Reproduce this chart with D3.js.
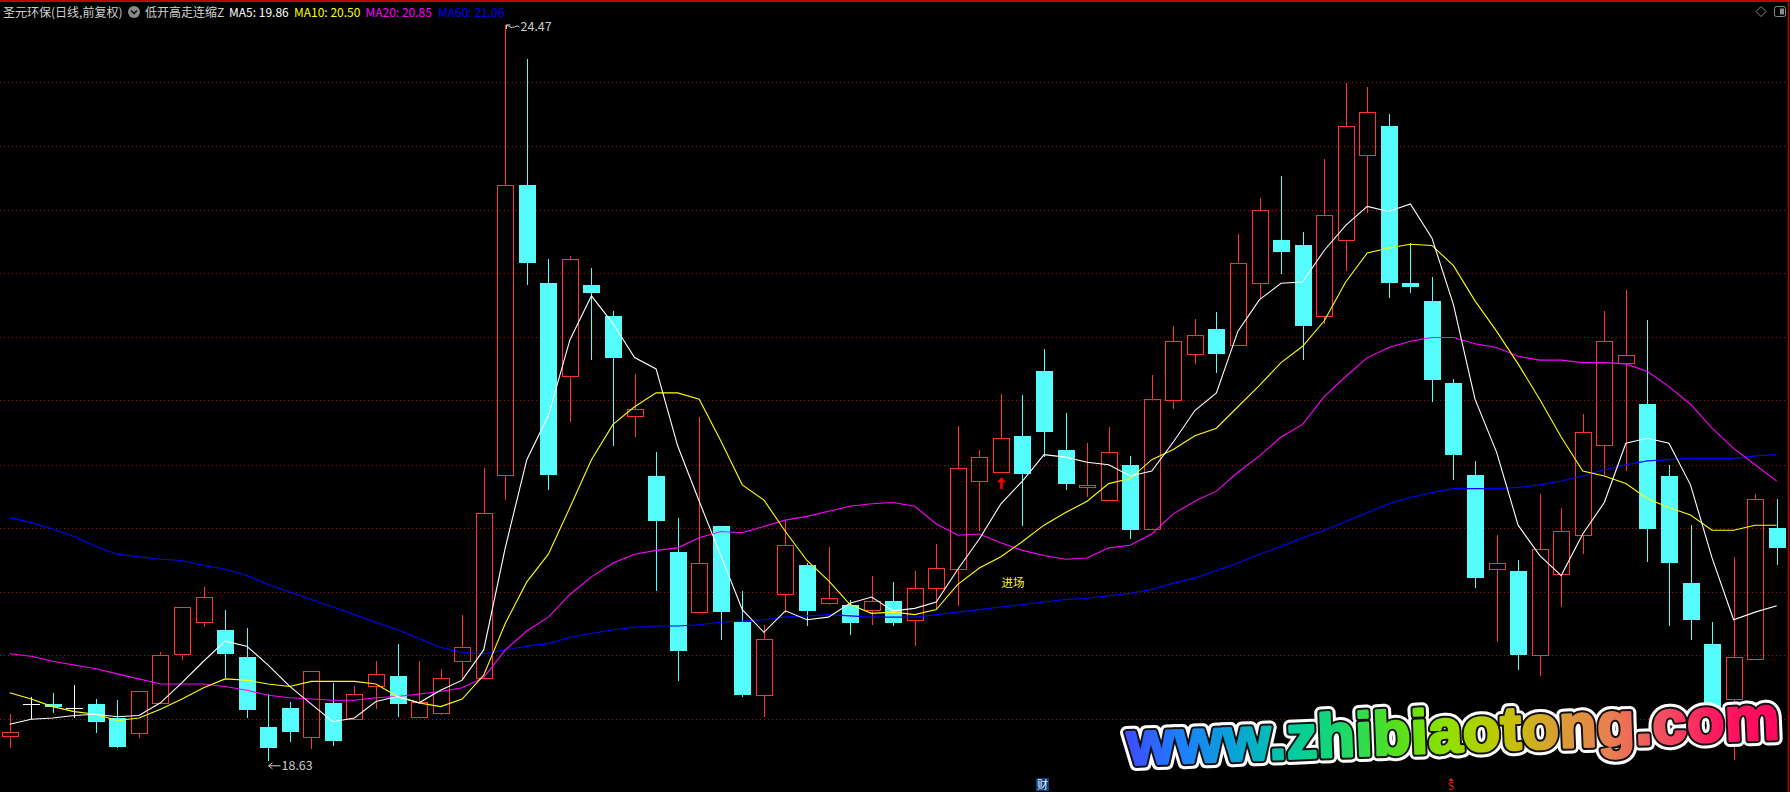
<!DOCTYPE html>
<html><head><meta charset="utf-8">
<script src="https://cdn.jsdelivr.net/npm/d3@7"></script>
<style>html,body{margin:0;padding:0;background:#000;overflow:hidden}</style>
</head><body><svg id="c" width="1790" height="792"></svg>
<script>
// ---------- data ----------
const days = d3.range(83);
const open = [18.83,19.08,19.08,19.05,19.08,18.97,18.85,19.09,19.48,19.73,
19.67,19.45,18.90,19.05,18.82,19.09,18.96,19.22,19.30,18.98,
19.01,19.42,19.29,20.90,23.20,22.42,21.68,22.41,22.16,21.37,
20.89,20.29,19.81,20.49,19.73,19.15,19.95,20.18,19.88,19.87,
19.83,19.90,19.75,20.00,20.15,20.85,20.92,21.21,21.72,21.10,
20.80,20.70,20.98,20.47,21.49,21.86,22.06,21.93,22.42,22.76,
22.72,22.16,22.76,23.44,23.67,22.42,22.28,21.63,20.90,20.15,
20.14,19.47,20.11,20.42,21.14,21.79,21.46,20.89,20.04,19.56,
19.12,19.44,20.48];
const high = [19.00,19.14,19.17,19.23,19.12,19.11,19.18,19.49,19.85,20.01,
19.83,19.68,19.16,19.10,19.34,19.25,19.22,19.42,19.56,19.42,
19.36,19.79,20.95,24.47,24.20,22.61,22.64,22.54,22.20,21.70,
21.08,20.56,21.36,20.49,19.98,19.71,20.53,20.20,20.33,19.91,
20.10,20.05,20.14,20.35,21.29,21.10,21.54,21.53,21.90,21.39,
21.15,21.28,21.05,21.69,22.08,22.14,22.19,22.81,23.10,23.27,
22.83,23.41,24.01,23.98,23.76,22.74,22.47,21.66,21.01,20.42,
20.22,20.75,20.64,21.38,22.20,22.37,22.13,20.98,20.50,19.73,
20.25,20.75,20.71];
const low = [18.73,18.96,19.01,18.97,18.85,18.73,18.81,19.09,19.43,19.69,
19.29,18.97,18.63,18.78,18.72,18.75,18.96,19.04,18.98,18.98,
18.99,19.28,19.29,20.70,22.41,20.78,21.32,21.81,21.13,21.20,
19.98,19.26,19.81,19.59,19.14,18.98,19.80,19.70,19.87,19.63,
19.71,19.70,19.54,19.83,19.86,20.45,20.92,20.49,21.04,20.78,
20.72,20.70,20.39,20.47,21.42,21.78,21.71,21.93,22.30,22.49,
21.81,22.10,22.52,22.98,22.30,22.34,21.48,20.86,20.00,19.57,
19.35,19.30,19.85,20.27,20.90,20.93,20.21,19.70,19.59,18.89,
18.64,19.44,20.18];
const close = [18.86,19.08,19.06,19.05,18.94,18.74,19.18,19.47,19.85,19.93,
19.48,19.03,18.73,18.86,19.34,18.79,19.16,19.32,19.08,19.10,
19.29,19.53,20.60,23.20,22.58,20.90,22.61,22.34,21.83,21.42,
20.53,19.50,20.20,19.81,19.15,19.60,20.34,19.82,19.92,19.72,
19.90,19.72,20.00,20.16,20.95,21.04,21.19,20.91,21.24,20.83,
20.82,21.08,20.46,21.50,21.96,22.01,21.86,22.58,23.00,22.67,
22.08,22.96,23.67,23.78,22.42,22.39,21.65,21.06,20.08,20.20,
19.47,20.31,20.45,21.24,21.96,21.85,20.47,20.20,19.75,18.95,
19.45,20.71,20.32];
const ma5 = [18.92,18.96,18.97,18.99,19.00,18.98,18.99,19.09,19.25,19.42,
19.58,19.54,19.39,19.22,19.08,18.94,18.97,19.10,19.14,19.09,
19.19,19.27,19.51,20.32,21.02,21.37,21.97,22.32,22.10,21.83,
21.74,21.13,20.69,20.26,19.83,19.65,19.82,19.75,19.77,19.88,
19.93,19.82,19.84,19.89,20.15,20.39,20.67,20.85,21.06,21.04,
21.00,20.98,20.89,20.93,21.16,21.41,21.55,22.04,22.29,22.42,
22.43,22.68,22.88,23.03,22.99,23.05,22.78,22.25,21.50,21.08,
20.50,20.26,20.10,20.43,20.68,21.15,21.19,21.15,20.82,20.24,
19.75,19.81,19.86];
const ma10 = [19.17,19.12,19.06,19.02,19.00,18.95,18.97,19.04,19.12,19.21,
19.28,19.27,19.24,19.22,19.26,19.26,19.26,19.24,19.14,19.09,
19.06,19.12,19.31,19.72,20.05,20.27,20.64,21.02,21.30,21.44,
21.55,21.55,21.50,21.17,20.82,20.70,20.45,20.22,20.06,19.87,
19.80,19.81,19.79,19.83,20.03,20.16,20.25,20.37,20.50,20.60,
20.69,20.83,20.87,21.02,21.10,21.21,21.27,21.44,21.61,21.79,
21.92,22.12,22.43,22.66,22.70,22.73,22.72,22.56,22.28,22.04,
21.78,21.50,21.20,20.93,20.89,20.83,20.71,20.64,20.58,20.46,
20.46,20.50,20.50];
const ma20 = [19.48,19.46,19.42,19.39,19.36,19.32,19.28,19.24,19.24,19.24,
19.22,19.19,19.15,19.13,19.12,19.11,19.11,19.13,19.14,19.16,
19.18,19.21,19.29,19.51,19.66,19.77,19.95,20.09,20.20,20.27,
20.30,20.32,20.40,20.45,20.44,20.49,20.54,20.57,20.61,20.65,
20.67,20.68,20.65,20.51,20.42,20.43,20.36,20.30,20.26,20.23,
20.24,20.32,20.34,20.43,20.59,20.69,20.77,20.92,21.05,21.20,
21.30,21.52,21.68,21.83,21.91,21.96,21.99,21.99,21.94,21.91,
21.84,21.81,21.81,21.79,21.79,21.78,21.72,21.60,21.46,21.27,
21.11,20.98,20.85];
const ma60 = [20.56,20.52,20.47,20.41,20.33,20.27,20.25,20.23,20.22,20.18,
20.15,20.10,20.03,19.97,19.91,19.85,19.79,19.73,19.67,19.60,
19.53,19.49,19.48,19.51,19.54,19.56,19.61,19.64,19.67,19.69,
19.70,19.70,19.71,19.73,19.74,19.75,19.77,19.78,19.79,19.78,
19.77,19.77,19.77,19.79,19.81,19.83,19.85,19.87,19.89,19.91,
19.92,19.94,19.96,19.99,20.04,20.08,20.14,20.20,20.27,20.33,
20.40,20.46,20.53,20.60,20.67,20.72,20.76,20.79,20.79,20.79,
20.80,20.82,20.85,20.89,20.94,20.98,21.01,21.02,21.03,21.03,
21.03,21.05,21.06];
const gridLevels = [24.02,23.51,23.00,22.50,21.99,21.49,20.98,20.48,19.97,19.47,18.96];
const titleName = "圣元环保(日线,前复权)";
const indicatorName = "低开高走连缩Z";
const maNames = ["MA5","MA10","MA20","MA60"];
const highMarkIndex = 23, lowMarkIndex = 12;
const signalIndex = 46, signalText = "进场", signalTextPrice = 20.05;
const caiIndex = 48, sIndex = 67;
const watermark = "www.zhibiaotong.com";

// ---------- drawing ----------
const W = 1790, H = 792;
const svg = d3.select('#c');
svg.append('rect').attr('width', W).attr('height', H).attr('fill', '#000');

const x = d3.scalePoint().domain(days).range([9.6, 1776.7]);
const y = d3.scaleLinear().domain([18.63, 24.47]).range([760.8, 24.95]);
const RED = '#ff3232', CYAN = '#54fcfc';

// grid
svg.append('g').selectAll('line').data(gridLevels).join('line')
  .attr('x1', 0).attr('x2', 1788)
  .attr('y1', d => Math.round(y(d)) + 0.5).attr('y2', d => Math.round(y(d)) + 0.5)
  .attr('stroke', '#a01010').attr('stroke-width', 1).attr('stroke-dasharray', '1,3');

// frame
svg.append('line').attr('x1', 0).attr('x2', 1790).attr('y1', 1).attr('y2', 1)
  .attr('stroke', '#c00000').attr('stroke-width', 2);
svg.append('line').attr('x1', 1788.5).attr('x2', 1788.5).attr('y1', 0).attr('y2', H)
  .attr('stroke', '#c00000').attr('stroke-width', 1.5);

// candles
const cg = svg.append('g').attr('shape-rendering', 'crispEdges');
days.forEach(i => {
  const cx = Math.round(x(i));
  const o = open[i], c = close[i], h = high[i], l = low[i];
  const yo = Math.round(y(o)), yc = Math.round(y(c)), yh = Math.round(y(h)), yl = Math.round(y(l));
  if (c > o) {
    if (yh < yc) cg.append('line').attr('x1', cx + .5).attr('x2', cx + .5).attr('y1', yh).attr('y2', yc).attr('stroke', RED);
    if (yl > yo) cg.append('line').attr('x1', cx + .5).attr('x2', cx + .5).attr('y1', yo).attr('y2', yl).attr('stroke', RED);
    cg.append('rect').attr('x', cx - 7.5).attr('y', yc + .5).attr('width', 16).attr('height', Math.max(1, yo - yc))
      .attr('fill', 'none').attr('stroke', RED).attr('stroke-width', 1.3);
  } else if (c < o) {
    cg.append('line').attr('x1', cx + .5).attr('x2', cx + .5).attr('y1', yh).attr('y2', yl).attr('stroke', CYAN);
    cg.append('rect').attr('x', cx - 8).attr('y', yo).attr('width', 17).attr('height', Math.max(2, yc - yo))
      .attr('fill', CYAN);
  } else {
    cg.append('line').attr('x1', cx + .5).attr('x2', cx + .5).attr('y1', yh).attr('y2', yl).attr('stroke', '#fff');
    cg.append('line').attr('x1', cx - 8).attr('x2', cx + 9).attr('y1', yo + .5).attr('y2', yo + .5).attr('stroke', '#fff');
  }
});

// moving averages
const maSeries = [
  {v: ma60, color: '#0000ff'},
  {v: ma20, color: '#ff00ff'},
  {v: ma10, color: '#ffff00'},
  {v: ma5, color: '#ffffff'}
];
const line = d3.line().x((d, i) => x(i)).y(d => y(d));
maSeries.forEach(s => {
  svg.append('path').attr('d', line(s.v)).attr('fill', 'none')
    .attr('stroke', s.color).attr('stroke-width', 1.1);
});

// high / low labels
const FONT = '"Noto Sans CJK SC", "Noto Sans", sans-serif';
{
  const hx = Math.round(x(highMarkIndex)) + 0.5, hy = y(high[highMarkIndex]);
  svg.append('path').attr('d', `M${hx+1},${hy+4} L${hx+1},${hy} L${hx+5},${hy} M${hx+1},${hy} Q${hx+6},${hy+4} ${hx+9},${hy+2} T${hx+14},${hy+2}`)
    .attr('fill', 'none').attr('stroke', '#c8c8c8').attr('stroke-width', 1);
  svg.append('text').attr('x', hx + 15).attr('y', hy + 6.5).attr('fill', '#c8c8c8')
    .attr('font-family', FONT).attr('font-size', 12.5).text(d3.format('.2f')(high[highMarkIndex]));
  const lx = Math.round(x(lowMarkIndex)) + 0.5, ly = y(low[lowMarkIndex]) + 5;
  svg.append('path').attr('d', `M${lx},${ly} L${lx+12},${ly} M${lx},${ly} L${lx+4},${ly-3} M${lx},${ly} L${lx+4},${ly+3}`)
    .attr('fill', 'none').attr('stroke', '#c8c8c8').attr('stroke-width', 1);
  svg.append('text').attr('x', lx + 13).attr('y', ly + 4.5).attr('fill', '#c8c8c8')
    .attr('font-family', FONT).attr('font-size', 12.5).text(d3.format('.2f')(low[lowMarkIndex]));
}

// signal
{
  const sx = Math.round(x(signalIndex)) + 0.5, tip = y(low[signalIndex]) + 5;
  svg.append('path').attr('d', `M${sx},${tip} L${sx+4.5},${tip+5} L${sx+1.2},${tip+5} L${sx+1.2},${tip+12} L${sx-1.2},${tip+12} L${sx-1.2},${tip+5} L${sx-4.5},${tip+5} Z`)
    .attr('fill', '#ff0000');
  svg.append('text').attr('x', sx).attr('y', y(signalTextPrice) + 5).attr('fill', '#ffff00')
    .attr('font-family', FONT).attr('font-size', 11.5).text(signalText);
}

// bottom markers
{
  const bx = Math.round(x(caiIndex));
  svg.append('rect').attr('x', bx - 8).attr('y', 778).attr('width', 13).attr('height', 13).attr('fill', '#0a3c78');
  svg.append('text').attr('x', bx - 1.5).attr('y', 789).attr('text-anchor', 'middle').attr('fill', '#e8f0ff')
    .attr('font-family', FONT).attr('font-size', 11).text('财');
  const sx = Math.round(x(sIndex)) - 2;
  svg.append('path').attr('d', `M${sx},778 L${sx+2.5},781 L${sx-2.5},781 Z`).attr('fill', '#ff2020');
  svg.append('text').attr('x', sx).attr('y', 789.5).attr('text-anchor', 'middle').attr('fill', '#ff2020')
    .attr('font-family', FONT).attr('font-size', 10).text('S');
}

// header
{
  const hy = 16.5;
  svg.append('text').attr('x', 3).attr('y', hy).attr('fill', '#d0d0d0')
    .attr('font-family', FONT).attr('font-size', 12).text(titleName);
  svg.append('circle').attr('cx', 134).attr('cy', 12).attr('r', 6).attr('fill', '#8a8a8a');
  svg.append('path').attr('d', 'M131,10.5 L134,13.5 L137,10.5').attr('fill', 'none').attr('stroke', '#111').attr('stroke-width', 1.6);
  svg.append('text').attr('x', 145).attr('y', hy).attr('fill', '#d0d0d0')
    .attr('font-family', FONT).attr('font-size', 12).text(indicatorName);
  const vals = [ma5, ma10, ma20, ma60].map(a => a[a.length - 1]);
  const cols = ['#ffffff', '#ffff00', '#ff00ff', '#0000ff'];
  const xs = [229, 294, 365.5, 438];
  maNames.forEach((n, k) => {
    svg.append('text').attr('x', xs[k]).attr('y', hy).attr('fill', cols[k])
      .attr('font-family', FONT).attr('font-size', 12).text(`${n}: ${d3.format('.2f')(vals[k])}`);
  });
  // top-right icons
  svg.append('path').attr('d', 'M1761,6.5 L1766,11.5 L1761,16.5 L1756,11.5 Z').attr('fill', 'none').attr('stroke', '#8a8a8a');
  svg.append('rect').attr('x', 1774.5).attr('y', 6.5).attr('width', 11).attr('height', 10).attr('rx', 2)
    .attr('fill', 'none').attr('stroke', '#8a8a8a');
  svg.append('rect').attr('x', 1780).attr('y', 8.5).attr('width', 4).attr('height', 6).attr('fill', '#8a8a8a');
}

// watermark
{
  const defs = svg.append('defs');
  const g = defs.append('linearGradient').attr('id', 'wm').attr('gradientUnits', 'userSpaceOnUse')
    .attr('x1', 1124).attr('y1', 0).attr('x2', 1770).attr('y2', 0);
  const stops = ['#4048ff','#1f7cff','#0aa0d8','#00c8a8','#18d870','#50e020','#90e000','#c0c800','#d8a030','#e88050','#f05060','#ff1a60','#ff0860'];
  stops.forEach((c, k) => g.append('stop').attr('offset', k / (stops.length - 1)).attr('stop-color', c));
  const wg = svg.append('g').attr('transform', 'rotate(-2.3 1124 766)');
  const common = t => t.attr('x', 1128).attr('y', 765).attr('font-family', '"Liberation Sans", Arial, sans-serif')
    .attr('font-weight', 'bold').attr('font-size', 61).attr('letter-spacing', 0.6)
    .attr('stroke-linejoin', 'round').text(watermark);
  wg.append('text').call(common).attr('fill', '#fff').attr('stroke', '#fff').attr('stroke-width', 13);
  wg.append('text').call(common).attr('fill', 'none').attr('stroke', '#111').attr('stroke-width', 7);
  wg.append('text').call(common).attr('fill', 'url(#wm)').attr('stroke', 'url(#wm)').attr('stroke-width', 3);
}
</script></body></html>
